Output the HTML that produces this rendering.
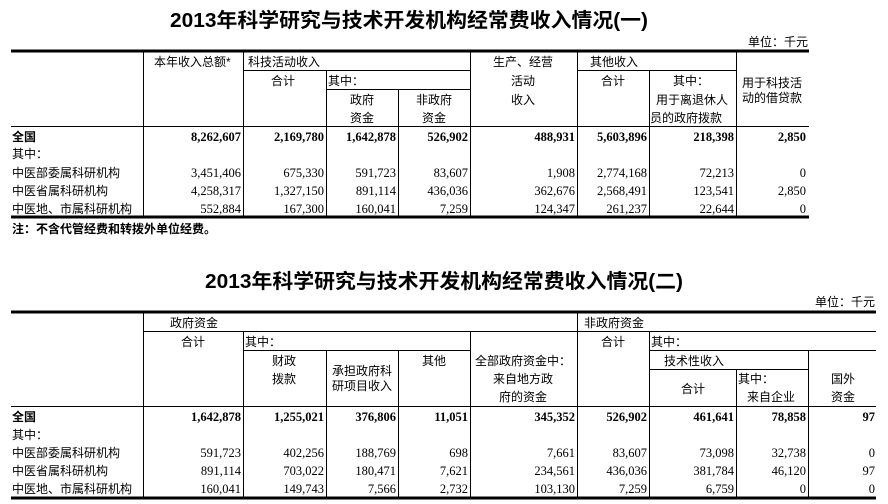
<!DOCTYPE html>
<html><head><meta charset="utf-8"><style>
html,body{margin:0;padding:0;background:#fff;}
svg{display:block;}
.c{font-family:"Liberation Sans","Noto Sans CJK SC",sans-serif;font-size:12px;fill:#000;}
.n{font-family:"Liberation Serif",serif;font-size:12.5px;fill:#000;text-anchor:end;}
.b{font-weight:bold;}
.t{font-family:"Liberation Sans","Noto Sans CJK SC",sans-serif;font-size:20px;font-weight:bold;fill:#000;}
.m{text-anchor:middle;}
</style></head><body>
<svg width="888" height="504" viewBox="0 0 888 504" xmlns="http://www.w3.org/2000/svg">
<g stroke="#000" stroke-width="1" shape-rendering="crispEdges">
<!-- table 1 -->
<line x1="11" y1="51" x2="809" y2="51" stroke-width="3"/>
<line x1="11" y1="217" x2="809" y2="217" stroke-width="3"/>
<line x1="11" y1="126.5" x2="809" y2="126.5"/>
<line x1="243" y1="70.5" x2="470" y2="70.5"/>
<line x1="577" y1="70.5" x2="736" y2="70.5"/>
<line x1="326" y1="89.5" x2="470" y2="89.5"/>
<line x1="143.5" y1="51" x2="143.5" y2="217"/>
<line x1="243.5" y1="51" x2="243.5" y2="217"/>
<line x1="326.5" y1="70" x2="326.5" y2="217"/>
<line x1="398.5" y1="89" x2="398.5" y2="217"/>
<line x1="470.5" y1="51" x2="470.5" y2="217"/>
<line x1="577.5" y1="51" x2="577.5" y2="217"/>
<line x1="649.5" y1="70" x2="649.5" y2="217"/>
<line x1="736.5" y1="51" x2="736.5" y2="217"/>
<!-- table 2 -->
<line x1="11" y1="312" x2="876" y2="312" stroke-width="3"/>
<line x1="11" y1="498" x2="876" y2="498" stroke-width="3"/>
<line x1="11" y1="406.5" x2="876" y2="406.5"/>
<line x1="143" y1="331.5" x2="876" y2="331.5"/>
<line x1="243" y1="350.5" x2="470" y2="350.5"/>
<line x1="649" y1="350.5" x2="876" y2="350.5"/>
<line x1="649" y1="369.5" x2="808" y2="369.5"/>
<line x1="143.5" y1="312" x2="143.5" y2="498"/>
<line x1="243.5" y1="331" x2="243.5" y2="498"/>
<line x1="326.5" y1="350" x2="326.5" y2="498"/>
<line x1="398.5" y1="350" x2="398.5" y2="498"/>
<line x1="470.5" y1="331" x2="470.5" y2="498"/>
<line x1="577.5" y1="312" x2="577.5" y2="498"/>
<line x1="649.5" y1="331" x2="649.5" y2="498"/>
<line x1="736.5" y1="369" x2="736.5" y2="498"/>
<line x1="808.5" y1="350" x2="808.5" y2="498"/>
</g>

<!-- Titles -->
<text class="t" x="170" y="27" textLength="478" lengthAdjust="spacingAndGlyphs">2013年科学研究与技术开发机构经常费收入情况(一)</text>
<text class="c" x="808" y="46" text-anchor="end">单位：千元</text>
<text class="t" x="205" y="288" textLength="478" lengthAdjust="spacingAndGlyphs">2013年科学研究与技术开发机构经常费收入情况(二)</text>
<text class="c" x="875" y="306" text-anchor="end">单位：千元</text>

<!-- Table 1 headers -->
<text class="c" x="154" y="66">本年收入总额*</text>
<text class="c" x="248" y="66">科技活动收入</text>
<text class="c m" x="283" y="85">合计</text>
<text class="c" x="328" y="85">其中：</text>
<text class="c m" x="362" y="104">政府</text>
<text class="c m" x="362" y="122">资金</text>
<text class="c m" x="434" y="104">非政府</text>
<text class="c m" x="434" y="122">资金</text>
<text class="c m" x="523" y="66">生产、经营</text>
<text class="c m" x="523" y="85">活动</text>
<text class="c m" x="523" y="104">收入</text>
<text class="c" x="590" y="66">其他收入</text>
<text class="c m" x="613" y="85">合计</text>
<text class="c m" x="691" y="85">其中：</text>
<text class="c m" x="692" y="104">用于离退休人</text>
<text class="c" x="650" y="122">员的政府拨款</text>
<text class="c" x="742" y="87">用于科技活</text>
<text class="c" x="742" y="102">动的借贷款</text>

<!-- Table 1 rows -->
<text class="c b" x="12" y="141">全国</text>
<text class="c" x="12" y="158">其中：</text>
<text class="c" x="12" y="177">中医部委属科研机构</text>
<text class="c" x="12" y="195">中医省属科研机构</text>
<text class="c" x="12" y="213">中医地、市属科研机构</text>
<g class="b">
<text class="n b" x="241" y="141">8,262,607</text>
<text class="n b" x="324" y="141">2,169,780</text>
<text class="n b" x="396" y="141">1,642,878</text>
<text class="n b" x="468" y="141">526,902</text>
<text class="n b" x="575" y="141">488,931</text>
<text class="n b" x="647" y="141">5,603,896</text>
<text class="n b" x="734" y="141">218,398</text>
<text class="n b" x="806" y="141">2,850</text>
</g>
<text class="n" x="241" y="177">3,451,406</text><text class="n" x="324" y="177">675,330</text><text class="n" x="396" y="177">591,723</text><text class="n" x="468" y="177">83,607</text><text class="n" x="575" y="177">1,908</text><text class="n" x="647" y="177">2,774,168</text><text class="n" x="734" y="177">72,213</text><text class="n" x="806" y="177">0</text>
<text class="n" x="241" y="195">4,258,317</text><text class="n" x="324" y="195">1,327,150</text><text class="n" x="396" y="195">891,114</text><text class="n" x="468" y="195">436,036</text><text class="n" x="575" y="195">362,676</text><text class="n" x="647" y="195">2,568,491</text><text class="n" x="734" y="195">123,541</text><text class="n" x="806" y="195">2,850</text>
<text class="n" x="241" y="213">552,884</text><text class="n" x="324" y="213">167,300</text><text class="n" x="396" y="213">160,041</text><text class="n" x="468" y="213">7,259</text><text class="n" x="575" y="213">124,347</text><text class="n" x="647" y="213">261,237</text><text class="n" x="734" y="213">22,644</text><text class="n" x="806" y="213">0</text>
<text class="c b" x="12" y="233">注：不含代管经费和转拨外单位经费。</text>

<!-- Table 2 headers -->
<text class="c" x="170" y="327">政府资金</text>
<text class="c m" x="193" y="346">合计</text>
<text class="c" x="245" y="346">其中：</text>
<text class="c m" x="284" y="365">财政</text>
<text class="c m" x="284" y="383">拨款</text>
<text class="c m" x="362" y="375">承担政府科</text>
<text class="c m" x="362" y="390">研项目收入</text>
<text class="c m" x="434" y="365">其他</text>
<text class="c m" x="523" y="365">全部政府资金中：</text>
<text class="c m" x="523" y="383">来自地方政</text>
<text class="c m" x="523" y="401">府的资金</text>
<text class="c" x="584" y="327">非政府资金</text>
<text class="c m" x="613" y="346">合计</text>
<text class="c" x="651" y="346">其中：</text>
<text class="c" x="664" y="365">技术性收入</text>
<text class="c m" x="693" y="393">合计</text>
<text class="c" x="738" y="383">其中：</text>
<text class="c m" x="771" y="401">来自企业</text>
<text class="c m" x="843" y="383">国外</text>
<text class="c m" x="843" y="401">资金</text>

<!-- Table 2 rows -->
<text class="c b" x="12" y="421">全国</text>
<text class="c" x="12" y="439">其中：</text>
<text class="c" x="12" y="457">中医部委属科研机构</text>
<text class="c" x="12" y="475">中医省属科研机构</text>
<text class="c" x="12" y="493">中医地、市属科研机构</text>
<text class="n b" x="241" y="421">1,642,878</text><text class="n b" x="324" y="421">1,255,021</text><text class="n b" x="396" y="421">376,806</text><text class="n b" x="468" y="421">11,051</text><text class="n b" x="575" y="421">345,352</text><text class="n b" x="647" y="421">526,902</text><text class="n b" x="734" y="421">461,641</text><text class="n b" x="806" y="421">78,858</text><text class="n b" x="875" y="421">97</text>
<text class="n" x="241" y="457">591,723</text><text class="n" x="324" y="457">402,256</text><text class="n" x="396" y="457">188,769</text><text class="n" x="468" y="457">698</text><text class="n" x="575" y="457">7,661</text><text class="n" x="647" y="457">83,607</text><text class="n" x="734" y="457">73,098</text><text class="n" x="806" y="457">32,738</text><text class="n" x="875" y="457">0</text>
<text class="n" x="241" y="475">891,114</text><text class="n" x="324" y="475">703,022</text><text class="n" x="396" y="475">180,471</text><text class="n" x="468" y="475">7,621</text><text class="n" x="575" y="475">234,561</text><text class="n" x="647" y="475">436,036</text><text class="n" x="734" y="475">381,784</text><text class="n" x="806" y="475">46,120</text><text class="n" x="875" y="475">97</text>
<text class="n" x="241" y="493">160,041</text><text class="n" x="324" y="493">149,743</text><text class="n" x="396" y="493">7,566</text><text class="n" x="468" y="493">2,732</text><text class="n" x="575" y="493">103,130</text><text class="n" x="647" y="493">7,259</text><text class="n" x="734" y="493">6,759</text><text class="n" x="806" y="493">0</text><text class="n" x="875" y="493">0</text>
</svg>
</body></html>
